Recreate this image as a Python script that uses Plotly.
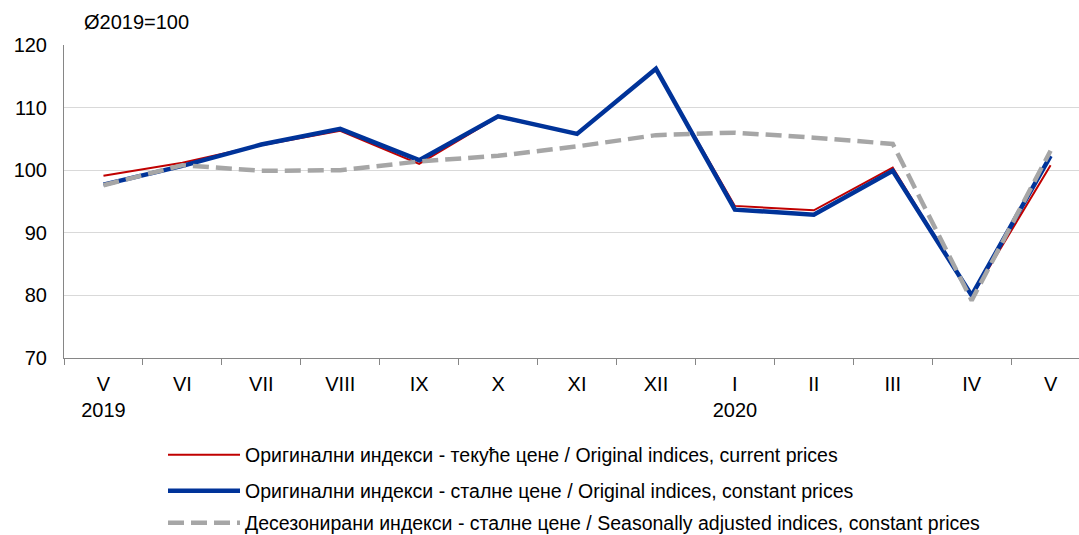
import plotly.graph_objects as go

months = ["V<br>2019", "VI", "VII", "VIII", "IX", "X", "XI", "XII", "I<br>2020", "II", "III", "IV", "V"]
current_prices = [99.1, 101.2, 104.0, 106.3, 101.0, 108.5, 105.8, 116.2, 94.3, 93.6, 100.4, 79.8, 100.8]
constant_prices = [97.7, 100.7, 104.1, 106.6, 101.6, 108.6, 105.8, 116.2, 93.7, 92.9, 99.9, 80.0, 102.3]
seasonally_adj = [97.6, 100.8, 99.9, 100.0, 101.4, 102.3, 103.8, 105.6, 106.0, 105.2, 104.2, 79.2, 103.1]

names = [
    "Оригинални индекси - текуће цене / Original indices, current prices",
    "Оригинални индекси - сталне цене / Original indices, constant prices",
    "Десезонирани индекси - сталне цене / Seasonally adjusted indices, constant prices",
]

x = list(range(len(months)))
FONT = "Liberation Sans, Arial, sans-serif"

fig = go.Figure()
fig.add_trace(go.Scatter(x=x, y=current_prices, mode="lines", name=names[0],
                         line=dict(color="#C00000", width=2), legend="legend"))
fig.add_trace(go.Scatter(x=x, y=constant_prices, mode="lines", name=names[1],
                         line=dict(color="#003399", width=4.5), legend="legend2"))
fig.add_trace(go.Scatter(x=x, y=seasonally_adj, mode="lines", name=names[2],
                         line=dict(color="#A6A6A6", width=4.5, dash="16px,7px"), legend="legend3"))

leg_common = dict(xref="container", yref="container", xanchor="left", yanchor="middle",
                  font=dict(family=FONT, size=19.5, color="#000000"), itemwidth=72,
                  bgcolor="rgba(0,0,0,0)", borderwidth=0)

LX = 163 / 1079
fig.update_layout(
    width=1079, height=535,
    margin=dict(l=64, r=0, t=45, b=177, autoexpand=False),
    plot_bgcolor="white", paper_bgcolor="white",
    font=dict(family=FONT, size=20, color="#000000"),
    showlegend=True,
    legend=dict(x=LX, y=1 - 455/535, **leg_common),
    legend2=dict(x=LX, y=1 - 491/535, **leg_common),
    legend3=dict(x=LX, y=1 - 523/535, **leg_common),
    xaxis=dict(
        range=[-0.5, 12.36], tickmode="array", tickvals=x, ticktext=months,
        showgrid=False, zeroline=False, showline=True, linecolor="#868686", linewidth=1,
        ticks="", tickfont=dict(family=FONT, size=20), tickangle=0, ticklabelstandoff=8,
        minor=dict(tick0=0.5, dtick=1, ticks="outside", ticklen=6, tickcolor="#868686", showgrid=False),
    ),
    yaxis=dict(
        range=[70, 120], dtick=10, showgrid=True, gridcolor="#D9D9D9", gridwidth=1,
        zeroline=False, showline=True, linecolor="#868686", linewidth=1,
        ticks="", tickfont=dict(family=FONT, size=20), ticklabelstandoff=12,
    ),
    annotations=[dict(text="Ø2019=100", xref="paper", yref="paper", x=(82 - 64) / 1015, y=1,
                      xanchor="left", yanchor="bottom", yshift=10, showarrow=False,
                      font=dict(family=FONT, size=20))],
)

fig.write_html("out.html", config={"displayModeBar": False},
               post_script="document.body.style.margin='0px';document.body.style.overflow='hidden';")
